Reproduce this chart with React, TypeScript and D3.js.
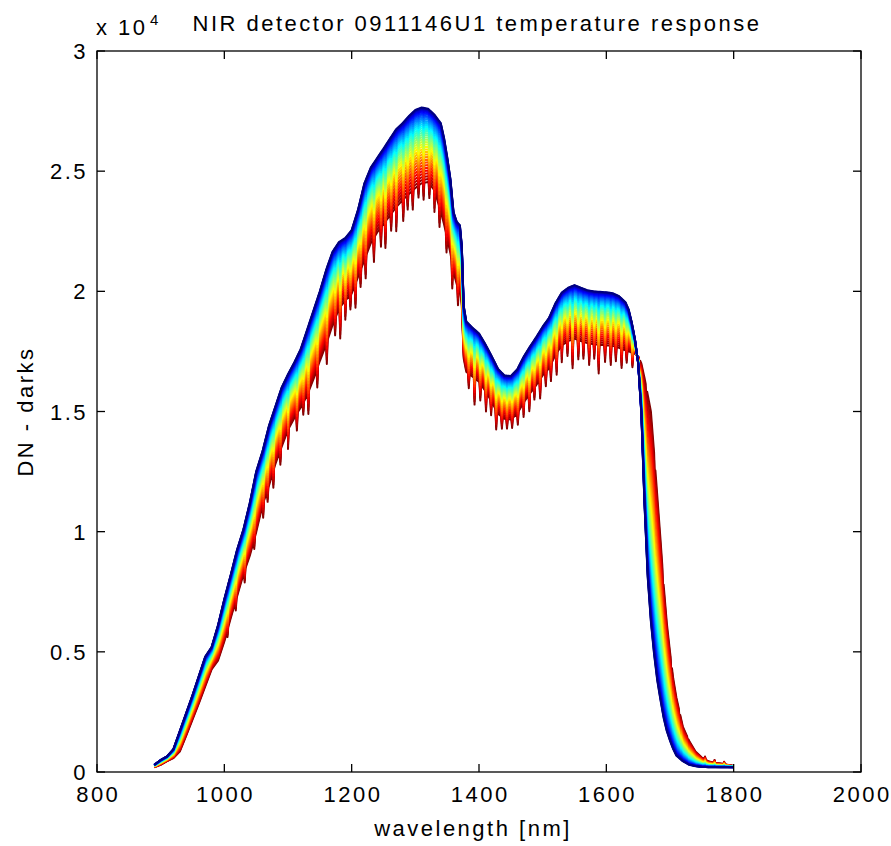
import React from 'react';
import * as d3 from 'd3';

// wavelength grid [nm]
const wavelengths = [890, 900, 910, 920, 930, 940, 950, 960, 970, 980, 990, 1000, 1010, 1020, 1030, 1040, 1050, 1060, 1070, 1080, 1090, 1100, 1110, 1120, 1130, 1140, 1150, 1160, 1170, 1180, 1190, 1200, 1210, 1220, 1230, 1240, 1250, 1260, 1270, 1280, 1290, 1300, 1310, 1320, 1330, 1340, 1345, 1350, 1355, 1360, 1365, 1370, 1373, 1376, 1380, 1390, 1400, 1410, 1420, 1430, 1440, 1450, 1460, 1470, 1480, 1490, 1500, 1510, 1520, 1530, 1540, 1550, 1560, 1570, 1580, 1590, 1600, 1610, 1620, 1630, 1635, 1640, 1645, 1650, 1655, 1660, 1665, 1670, 1675, 1680, 1685, 1690, 1695, 1700, 1705, 1710, 1720, 1730, 1740, 1750, 1760, 1770, 1780, 1790, 1800];

// DN - darks (x 10^4), coolest temperature (dark blue)
const coolResponse = [0.03, 0.05, 0.065, 0.095, 0.17, 0.245, 0.32, 0.40, 0.48, 0.52, 0.61, 0.72, 0.82, 0.925, 1.01, 1.12, 1.25, 1.335, 1.44, 1.52, 1.60, 1.655, 1.705, 1.76, 1.84, 1.92, 2.00, 2.09, 2.165, 2.205, 2.222, 2.255, 2.34, 2.45, 2.515, 2.555, 2.594, 2.635, 2.675, 2.70, 2.73, 2.755, 2.765, 2.76, 2.735, 2.70, 2.64, 2.56, 2.47, 2.33, 2.29, 2.275, 2.19, 1.94, 1.875, 1.848, 1.825, 1.78, 1.73, 1.677, 1.65, 1.648, 1.675, 1.727, 1.77, 1.81, 1.853, 1.89, 1.95, 1.995, 2.015, 2.026, 2.015, 2.005, 2.0, 1.998, 1.996, 1.992, 1.98, 1.955, 1.925, 1.87, 1.80, 1.70, 1.49, 1.11, 0.81, 0.625, 0.49, 0.38, 0.30, 0.225, 0.17, 0.13, 0.095, 0.068, 0.045, 0.03, 0.024, 0.021, 0.02, 0.02, 0.02, 0.02, 0.02];

// DN - darks (x 10^4), hottest temperature (dark red), without the noise spikes
const hotResponse = [0.02, 0.03, 0.045, 0.058, 0.085, 0.15, 0.218, 0.285, 0.356, 0.427, 0.463, 0.543, 0.64, 0.73, 0.823, 0.90, 0.997, 1.11, 1.19, 1.28, 1.353, 1.424, 1.473, 1.517, 1.566, 1.635, 1.71, 1.78, 1.86, 1.927, 1.962, 1.99, 2.06, 2.13, 2.20, 2.245, 2.28, 2.315, 2.35, 2.38, 2.405, 2.43, 2.45, 2.455, 2.42, 2.33, 2.28, 2.22, 2.16, 2.08, 2.03, 2.01, 1.94, 1.72, 1.665, 1.645, 1.624, 1.585, 1.54, 1.49, 1.47, 1.467, 1.49, 1.537, 1.575, 1.61, 1.65, 1.68, 1.735, 1.775, 1.793, 1.803, 1.793, 1.785, 1.78, 1.778, 1.776, 1.773, 1.765, 1.755, 1.75, 1.745, 1.74, 1.73, 1.70, 1.64, 1.57, 1.50, 1.33, 1.15, 0.97, 0.78, 0.62, 0.50, 0.39, 0.31, 0.19, 0.13, 0.085, 0.06, 0.045, 0.038, 0.035, 0.03, 0.025];

// downward noise spikes of the hottest curve (x 10^4)
const spikeWavelengths = [1005, 1018, 1032, 1047, 1061, 1068, 1077, 1088, 1100, 1114, 1124, 1132, 1146, 1161, 1174, 1182, 1190, 1198, 1206, 1214, 1222, 1235, 1246, 1253, 1262, 1270, 1281, 1288, 1296, 1305, 1313, 1322, 1330, 1338, 1349, 1358, 1367, 1384, 1393, 1402, 1411, 1419, 1427, 1436, 1444, 1452, 1461, 1470, 1479, 1487, 1496, 1505, 1513, 1522, 1530, 1539, 1547, 1556, 1564, 1573, 1581, 1588, 1598, 1607, 1615, 1624, 1632, 1641, 1652, 1663, 1676, 1689, 1702, 1715, 1728, 1755, 1770, 1785];
const spikeDepths = [0.03, 0.04, 0.05, 0.04, 0.06, 0.05, 0.07, 0.06, 0.08, 0.07, 0.05, 0.09, 0.08, 0.09, 0.07, 0.13, 0.08, 0.06, 0.1, 0.07, 0.09, 0.1, 0.08, 0.11, 0.07, 0.1, 0.09, 0.06, 0.08, 0.05, 0.07, 0.06, 0.09, 0.08, 0.07, 0.1, 0.08, 0.06, 0.11, 0.07, 0.08, 0.06, 0.08, 0.05, 0.04, 0.04, 0.05, 0.06, 0.07, 0.05, 0.08, 0.06, 0.07, 0.09, 0.07, 0.06, 0.12, 0.08, 0.07, 0.09, 0.06, 0.12, 0.07, 0.08, 0.06, 0.08, 0.05, 0.06, 0.05, 0.06, 0.05, 0.04, 0.04, 0.03, 0.02, -0.012, -0.012, -0.01];

const temperatureSteps = d3.range(36);
const xTicks = [800, 1000, 1200, 1400, 1600, 1800, 2000];
const yTicks = [0, 0.5, 1, 1.5, 2, 2.5, 3];
const yTickLabels = ['0', '0.5', '1', '1.5', '2', '2.5', '3'];

const W = 891, H = 846;
const L = 97, R = 861, T = 51, B = 772;

function jet(v: number) {
  const c = (a: number) => Math.max(0, Math.min(1, a));
  const r = c(1.5 - Math.abs(4 * v - 3));
  const g = c(1.5 - Math.abs(4 * v - 2));
  const b = c(1.5 - Math.abs(4 * v - 1));
  return d3.rgb(r * 255, g * 255, b * 255).formatHex();
}

export default function App() {
  const x = d3.scaleLinear().domain([800, 2000]).range([L, R]);
  const y = d3.scaleLinear().domain([0, 3]).range([B, T]);
  const n = temperatureSteps.length;
  const line = d3.line<[number, number]>().x(d => x(d[0])).y(d => y(d[1]));

  const curves = temperatureSteps.map(k => {
    const t = 1 - k / (n - 1); // 1 = hottest (red), 0 = coolest (blue); coolest drawn last
    const w = Math.pow(t, 1.4);
    const vals = wavelengths.map((wl, i) => coolResponse[i] * (1 - w) + hotResponse[i] * w);
    const base = d3.scaleLinear<number>().domain(wavelengths).range(vals);
    const pts: [number, number][] = wavelengths.map((wl, i) => [wl, vals[i]]);
    const f = Math.pow(t, 1.6);
    spikeWavelengths.forEach((sw, j) => {
      pts.push([sw - 1.1, base(sw - 1.1)]);
      pts.push([sw, Math.max(0.005, base(sw) - spikeDepths[j] * f)]);
      pts.push([sw + 1.1, base(sw + 1.1)]);
    });
    pts.sort((a, b) => a[0] - b[0]);
    return { k, color: jet(t), d: line(pts) || '' };
  });

  const font = '"Liberation Sans", Arial, Helvetica, sans-serif';
  const ts = { fontFamily: font, fontSize: 22, letterSpacing: '2.5px', fill: '#000' } as React.CSSProperties;

  return (
    <svg width={W} height={H} style={{ position: 'absolute', left: 0, top: 0, background: '#fff' }}>
      <rect x={0} y={0} width={W} height={H} fill="#fff" />
      <defs>
        <clipPath id="plotclip">
          <rect x={L} y={T} width={R - L} height={B - T} />
        </clipPath>
      </defs>
      <g clipPath="url(#plotclip)">
        {curves.map(c => (
          <path key={c.k} d={c.d} fill="none" stroke={c.color} strokeWidth={2} strokeLinejoin="round" />
        ))}
      </g>
      <rect x={L} y={T} width={R - L} height={B - T} fill="none" stroke="#000" strokeWidth={1.3} />
      {xTicks.map(t => (
        <g key={'x' + t}>
          <line x1={x(t)} x2={x(t)} y1={B} y2={B - 8} stroke="#000" strokeWidth={1.3} />
          <line x1={x(t)} x2={x(t)} y1={T} y2={T + 8} stroke="#000" strokeWidth={1.3} />
          <text x={x(t) + 1.25} y={802} textAnchor="middle" style={ts}>{t}</text>
        </g>
      ))}
      {yTicks.map((t, i) => (
        <g key={'y' + t}>
          <line x1={L} x2={L + 8} y1={y(t)} y2={y(t)} stroke="#000" strokeWidth={1.3} />
          <line x1={R} x2={R - 8} y1={y(t)} y2={y(t)} stroke="#000" strokeWidth={1.3} />
          <text x={88} y={y(t) + 8} textAnchor="end" style={ts}>{yTickLabels[i]}</text>
        </g>
      ))}
      <text x={96} y={35} style={ts}>x 10</text>
      <text x={150} y={25} style={{ ...ts, fontSize: 15, letterSpacing: '0px' }}>4</text>
      <text x={477} y={31} textAnchor="middle" style={ts}>NIR detector 0911146U1 temperature response</text>
      <text x={473} y={836} textAnchor="middle" style={ts}>wavelength [nm]</text>
      <text transform={`translate(33, ${(T + B) / 2}) rotate(-90)`} textAnchor="middle" style={ts}>DN - darks</text>
    </svg>
  );
}
